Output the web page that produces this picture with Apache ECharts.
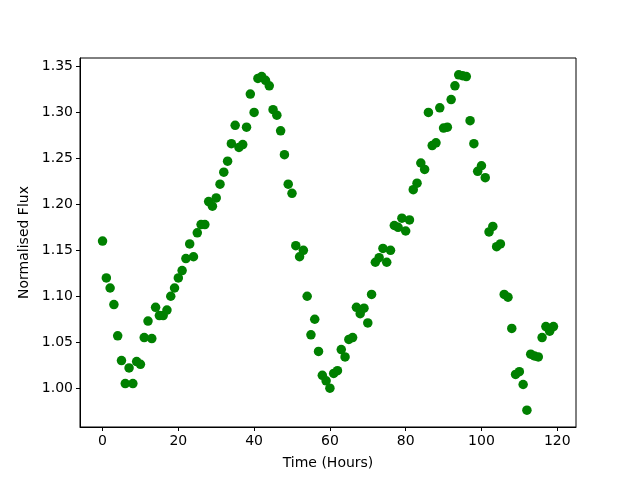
<!DOCTYPE html>
<html>
<head>
<meta charset="utf-8">
<script src="https://cdn.jsdelivr.net/npm/echarts@6/dist/echarts.min.js"></script>
<style>
  html, body { margin: 0; padding: 0; background: #fff; }
  #chart { width: 640px; height: 480px; }
</style>
</head>
<body>
<div id="chart"></div>
<script>
// hourly samples, 0..119
const hours = Array.from({ length: 120 }, (_, i) => i);
const flux = [
  1.160, 1.120, 1.109, 1.091, 1.057, 1.030, 1.005, 1.022, 1.005, 1.029,
  1.026, 1.055, 1.073, 1.054, 1.088, 1.079, 1.079, 1.085, 1.100, 1.109,
  1.120, 1.128, 1.141, 1.157, 1.143, 1.169, 1.178, 1.178, 1.203, 1.198,
  1.207, 1.222, 1.235, 1.247, 1.266, 1.286, 1.262, 1.265, 1.284, 1.320,
  1.300, 1.337, 1.339, 1.335, 1.329, 1.303, 1.297, 1.280, 1.254, 1.222,
  1.212, 1.155, 1.143, 1.150, 1.100, 1.058, 1.075, 1.040, 1.014, 1.008,
  1.000, 1.016, 1.019, 1.042, 1.034, 1.053, 1.055, 1.088, 1.081, 1.087,
  1.071, 1.102, 1.137, 1.142, 1.152, 1.137, 1.150, 1.177, 1.175, 1.185,
  1.171, 1.183, 1.216, 1.223, 1.245, 1.238, 1.300, 1.264, 1.267, 1.305,
  1.283, 1.284, 1.314, 1.329, 1.341, 1.340, 1.339, 1.291, 1.266, 1.236,
  1.242, 1.229, 1.170, 1.176, 1.154, 1.157, 1.102, 1.099, 1.065, 1.015,
  1.018, 1.004, 0.976, 1.037, 1.035, 1.034, 1.055, 1.067, 1.062, 1.067
];
const xTicks = [0, 20, 40, 60, 80, 100, 120];
const yTicks = [1.00, 1.05, 1.10, 1.15, 1.20, 1.25, 1.30, 1.35];

const chart = echarts.init(document.getElementById('chart'));
const font = 'DejaVu Sans';

// matplotlib-like 5% margins
const xMin = -5.95, xMax = 124.95;
const yLo = Math.min(...flux), yHi = Math.max(...flux);
const yPad = (yHi - yLo) * 0.05;

const option = {
  animation: false,
  backgroundColor: '#fff',
  grid: {
    left: 80, right: 64, top: 58, bottom: 53,
    show: true, borderColor: '#000', borderWidth: 1, backgroundColor: 'transparent'
  },
  xAxis: {
    type: 'value',
    min: xMin,
    max: xMax,
    name: 'Time (Hours)',
    nameLocation: 'middle',
    nameGap: 29,
    nameTextStyle: { fontFamily: font, fontSize: 14, color: '#000' },
    splitLine: { show: false },
    axisLine: { show: true, onZero: false, lineStyle: { color: '#000', width: 1 } },
    axisTick: { show: true, inside: false, length: 4, lineStyle: { color: '#000' }, customValues: xTicks },
    axisLabel: {
      fontFamily: font, fontSize: 14, color: '#000', margin: 7,
      customValues: xTicks,
      formatter: v => String(v)
    }
  },
  yAxis: {
    type: 'value',
    min: yLo - yPad,
    max: yHi + yPad,
    name: 'Normalised Flux',
    nameLocation: 'middle',
    nameGap: 43,
    nameTextStyle: { fontFamily: font, fontSize: 14, color: '#000' },
    splitLine: { show: false },
    axisLine: { show: true, onZero: false, lineStyle: { color: '#000', width: 1 } },
    axisTick: { show: true, inside: false, length: 4, lineStyle: { color: '#000' }, customValues: yTicks },
    axisLabel: {
      fontFamily: font, fontSize: 14, color: '#000', margin: 7,
      customValues: yTicks,
      formatter: v => v.toFixed(2)
    }
  },
  series: [
    {
      type: 'scatter',
      data: hours.map((h, i) => [h, flux[i]]),
      symbol: 'circle',
      symbolSize: 9.5,
      itemStyle: { color: '#008000', opacity: 1 }
    }
  ]
};
chart.setOption(option);
</script>
</body>
</html>
